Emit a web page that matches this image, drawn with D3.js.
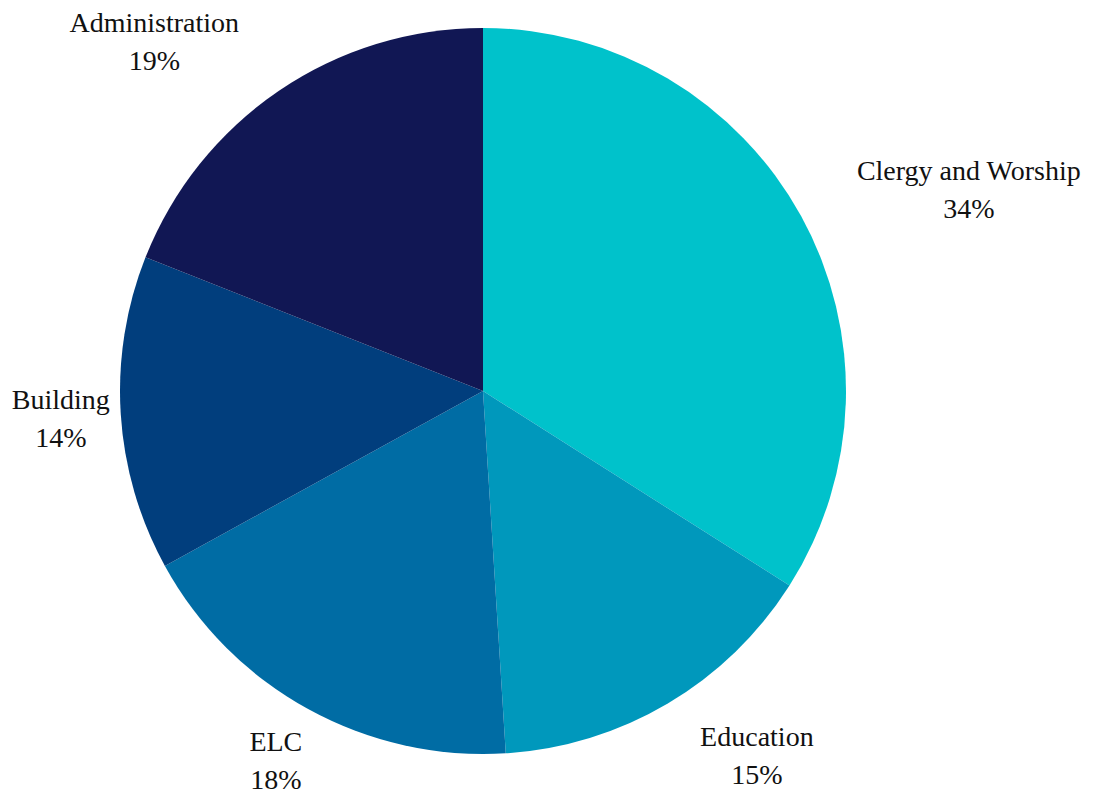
<!DOCTYPE html>
<html>
<head>
<meta charset="utf-8">
<script src="https://cdn.jsdelivr.net/npm/d3@7"></script>
<style>
  html, body { margin: 0; padding: 0; background: #ffffff; }
  svg { display: block; }
</style>
</head>
<body>
<div id="chart"></div>
<script>
const categories = ["Clergy and Worship", "Education", "ELC", "Building", "Administration"];
const shares = [34, 15, 18, 14, 19];
const colors = ["#00c2cb", "#0098bc", "#006ca4", "#013e7d", "#111754"];

// label block shift from its anchor on the outer ring
const labelShift = [[109, 13], [55, 2], [0, 0], [7, 8], [-87, 14]];

const width = 1098;
const height = 796;
const cx = 483;
const cy = 391;
const radius = 363;
const labelRadius = 430;

const data = categories.map((name, i) => ({ name, value: shares[i], i }));

const color = d3.scaleOrdinal(categories, colors);

const pie = d3.pie().sort(null).value((d) => d.value);
const arcs = pie(data);

const arc = d3.arc().innerRadius(0).outerRadius(radius);

const svg = d3
  .select("#chart")
  .append("svg")
  .attr("width", width)
  .attr("height", height)
  .attr("viewBox", `0 0 ${width} ${height}`);

const g = svg.append("g").attr("transform", `translate(${cx},${cy})`);

g.selectAll("path")
  .data(arcs)
  .join("path")
  .attr("d", arc)
  .attr("fill", (d) => color(d.data.name));

const labels = g
  .selectAll("text")
  .data(arcs)
  .join("text")
  .attr("text-anchor", "middle")
  .attr("font-family", "'Liberation Serif', 'Times New Roman', serif")
  .attr("font-size", 28)
  .attr("fill", "#111111")
  .attr("transform", (d) => {
    // point on the outer ring at the slice's middle angle
    const a = (d.startAngle + d.endAngle) / 2;
    const [px, py] = [labelRadius * Math.sin(a), -labelRadius * Math.cos(a)];
    const [dx, dy] = labelShift[d.data.i];
    return `translate(${px + dx},${py + dy})`;
  });

labels
  .append("tspan")
  .attr("x", 0)
  .attr("y", -17)
  .text((d) => d.data.name);

labels
  .append("tspan")
  .attr("x", 0)
  .attr("y", 21)
  .text((d) => `${d.data.value}%`);
</script>
</body>
</html>
